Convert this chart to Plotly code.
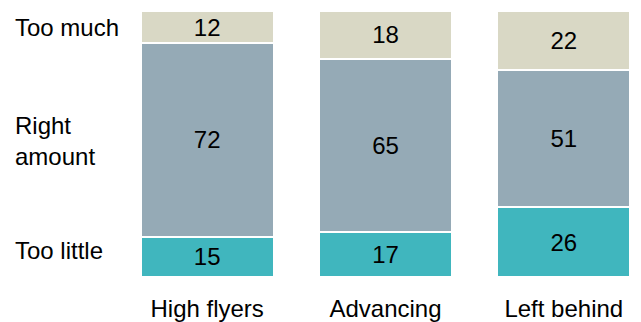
import plotly.graph_objects as go

categories = ["High flyers", "Advancing", "Left behind"]
too_little = [15, 17, 26]
right_amount = [72, 65, 51]
too_much = [12, 18, 22]
series_names = ["Too little", "Right amount", "Too much"]
series_colors = ["#40B6BE", "#95AAB6", "#D9D8C5"]

W, H = 641, 322
ML, MR, MT, MB = 118, 0, 11, 45
FONT = "Liberation Sans, Arial, sans-serif"
FS = 24

fig = go.Figure()
for name, vals, col in zip(series_names, [too_little, right_amount, too_much], series_colors):
    fig.add_trace(go.Bar(
        x=categories, y=vals, name=name,
        marker=dict(color=col, line=dict(color="white", width=2)),
        text=[str(v) for v in vals], textposition="inside",
        insidetextanchor="middle", textangle=0,
        textfont=dict(color="black", size=FS, family=FONT),
        hoverinfo="skip",
    ))

def xpaper(px):
    return (px - ML) / (W - ML - MR)

# left-side series labels
label_specs = [("Too much", 93.8), ("Right<br>amount", 51.0), ("Too little", 10.0)]
for txt, yv in label_specs:
    fig.add_annotation(
        text=txt, xref="paper", yref="y", x=xpaper(13), y=yv,
        xanchor="left", yanchor="middle", align="left", showarrow=False,
        font=dict(size=FS, color="black", family=FONT),
    )

fig.update_layout(
    width=W, height=H,
    margin=dict(l=ML, r=MR, t=MT, b=MB),
    barmode="stack", barnorm="percent", bargap=0.254,
    plot_bgcolor="white", paper_bgcolor="white",
    showlegend=False,
    uniformtext=dict(minsize=FS, mode="show"),
    xaxis=dict(range=[-0.5, 2.433], showgrid=False, zeroline=False, showline=False,
               automargin=False,
               ticks="outside", ticklen=10, tickcolor="rgba(0,0,0,0)",
               tickfont=dict(size=FS, color="black", family=FONT)),
    yaxis=dict(range=[0, 100], showgrid=False, zeroline=False, showline=False,
               automargin=False,
               showticklabels=False, ticks=""),
)

fig.write_html("out.html")
